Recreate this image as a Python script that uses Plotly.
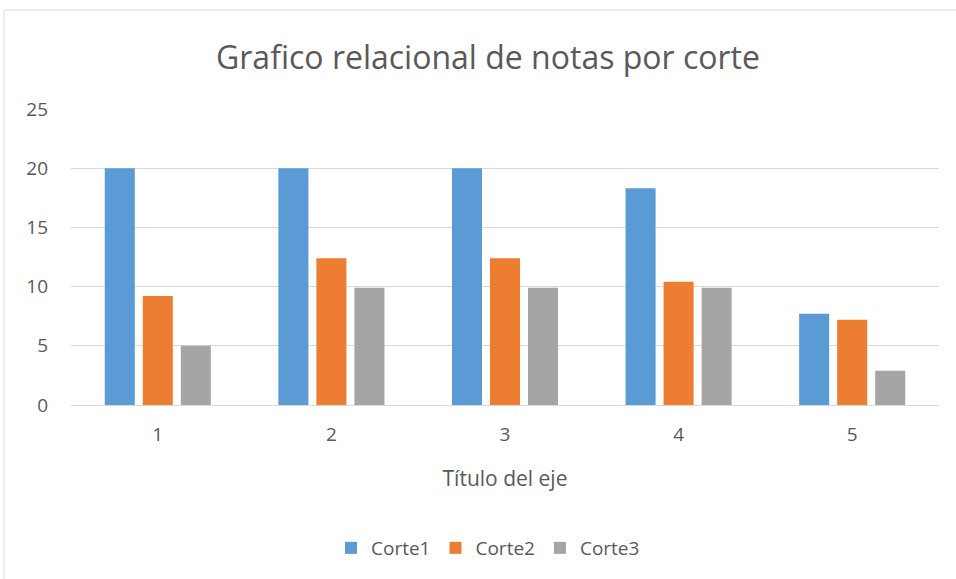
import plotly.graph_objects as go

categories = ["1", "2", "3", "4", "5"]
corte1 = [20, 20, 20, 18.3, 7.7]
corte2 = [9.2, 12.4, 12.4, 10.4, 7.2]
corte3 = [5, 9.9, 9.9, 9.9, 2.9]
series_names = ["Corte1", "Corte2", "Corte3"]
colors = ["#5B9BD5", "#ED7D31", "#A5A5A5"]

W, H = 956, 579
L, R, T, B = 71, 17, 109, 174
pw, ph = W - L - R, H - T - B

def px_x(p):
    return (p - L) / pw

def px_y(p):
    return (H - B - p) / ph

fig = go.Figure()
for name, vals, col in zip(series_names, [corte1, corte2, corte3], colors):
    fig.add_trace(go.Bar(x=categories, y=vals, name=name, marker=dict(color=col, line=dict(width=0))))

font = "Open Sans"
txt = "#595959"
fig.update_layout(
    width=W, height=H,
    margin=dict(l=L, r=R, t=T, b=B),
    paper_bgcolor="white", plot_bgcolor="white",
    barmode="group", bargap=0.343, bargroupgap=0.21,
    title=dict(text="Grafico relacional de notas por corte", x=488 / W, xref="container", xanchor="center",
               y=1 - 58 / H, yanchor="middle",
               font=dict(family=font, size=32, color=txt)),
    font=dict(family=font, size=19, color=txt),
    legend=dict(orientation="h", x=px_x(488), xanchor="center", y=px_y(548), yanchor="middle",
                font=dict(family=font, size=19, color=txt), itemwidth=30,
                traceorder="normal"),
    showlegend=True,
)
fig.update_xaxes(type="category", showline=True, linecolor="#d9d9d9", linewidth=1,
                 ticks="", ticklabelstandoff=12, tickfont=dict(size=19, color=txt),
                 title=dict(text="Título del eje", font=dict(size=21, color=txt), standoff=25))
fig.update_yaxes(range=[0, 25], dtick=5, showgrid=True, gridcolor="#d9d9d9", gridwidth=1,
                 zeroline=False, showline=False, ticks="", ticklabelstandoff=22,
                 tickfont=dict(size=19, color=txt))
fig.add_shape(type="rect", xref="paper", yref="paper",
              x0=px_x(4), x1=px_x(990), y0=px_y(620), y1=px_y(10),
              line=dict(color="#d9d9d9", width=1), fillcolor="rgba(0,0,0,0)", layer="below")

fig.write_html("out.html", config={"displayModeBar": False},
               post_script="document.body.style.margin='0';")
